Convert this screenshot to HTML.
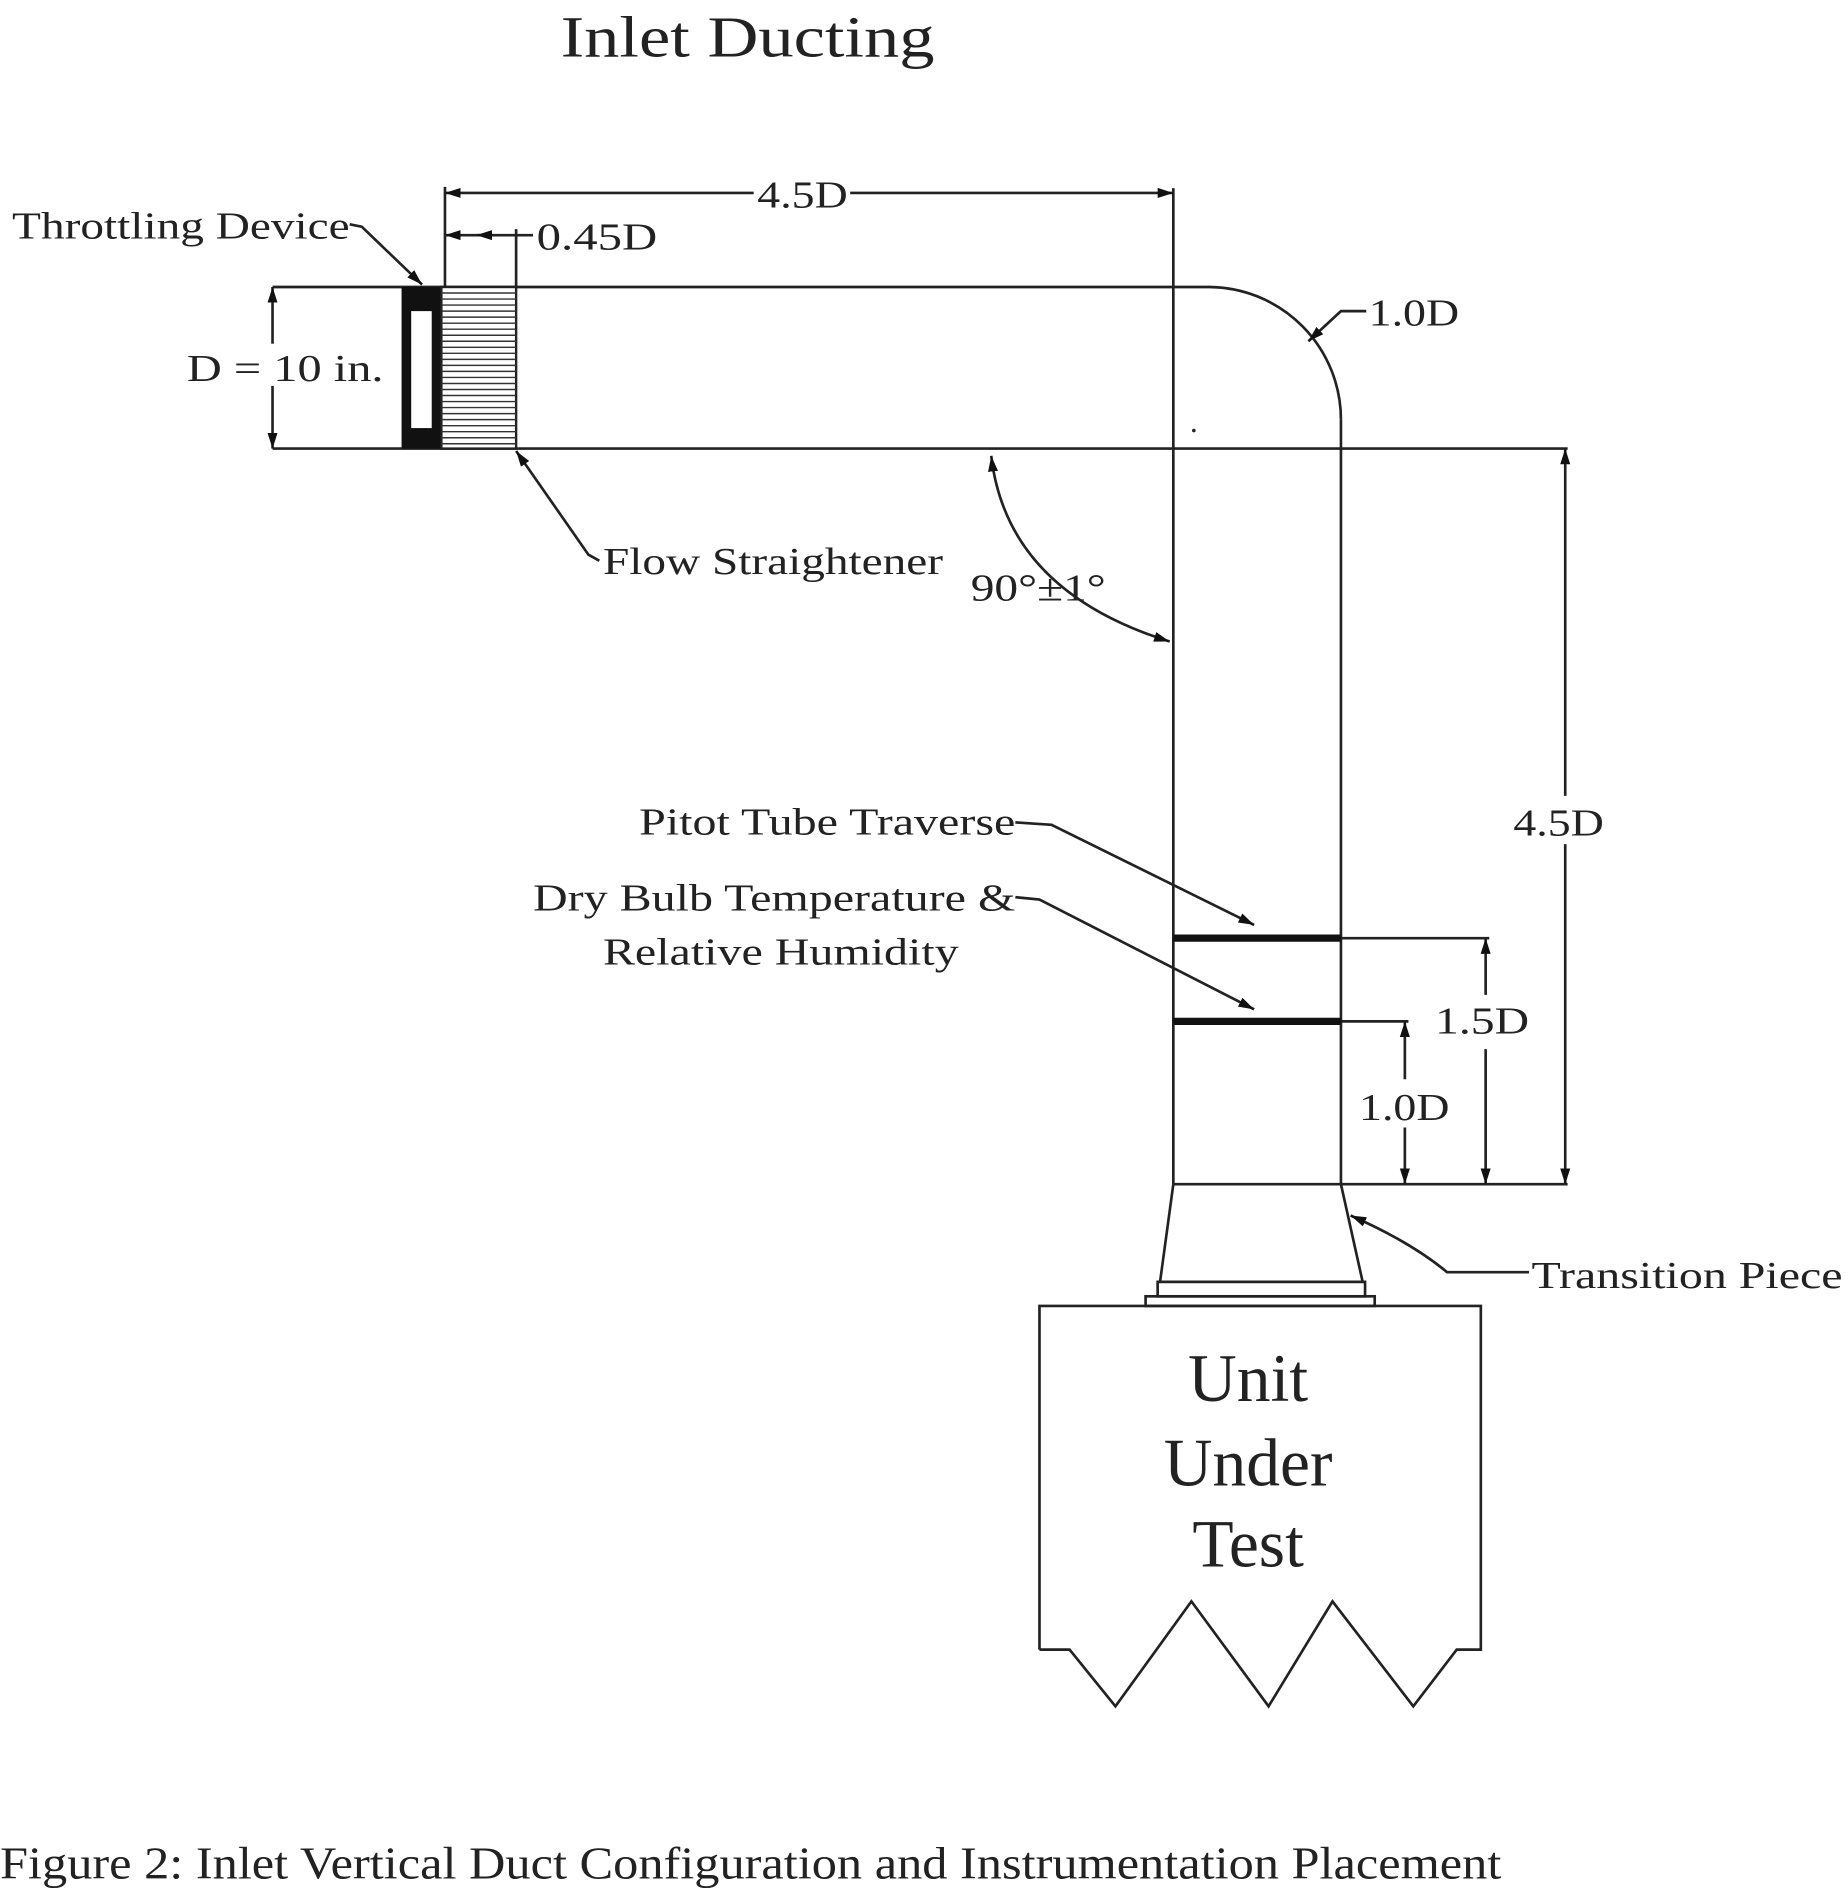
<!DOCTYPE html>
<html><head><meta charset="utf-8"><style>
html,body{margin:0;padding:0;background:#fff;}
svg{display:block;}
text{font-family:"Liberation Serif",serif;fill:#222;}
</style></head><body>
<svg width="1845" height="1889" viewBox="0 0 1530 1566.5" preserveAspectRatio="none" xmlns="http://www.w3.org/2000/svg">
<defs>
<marker id="a" viewBox="0 0 10 10" refX="10" refY="5" markerWidth="13" markerHeight="13" orient="auto-start-reverse" markerUnits="userSpaceOnUse"><path d="M0,1.8 L10,5 L0,8.2 z" fill="#111"/></marker>
</defs>
<g stroke="#222" stroke-width="2.2" fill="none">
<line x1="226" y1="238" x2="1003" y2="238"/>
<path d="M1003,238 A110,110 0 0 1 1112,348"/>
<line x1="1112" y1="348" x2="1112" y2="982"/>
<line x1="226" y1="372" x2="1300" y2="372"/>
<line x1="973" y1="156" x2="973" y2="982"/>
<line x1="973" y1="982" x2="1300" y2="982"/>
<line x1="369" y1="155" x2="369" y2="238"/>
<line x1="428" y1="190" x2="428" y2="238"/>
<line x1="369" y1="160" x2="625" y2="160" marker-start="url(#a)"/>
<line x1="705" y1="160" x2="973" y2="160" marker-end="url(#a)"/>
<line x1="369" y1="195" x2="405" y2="195" marker-start="url(#a)"/>
<line x1="395" y1="195" x2="428" y2="195" marker-start="url(#a)"/>
<line x1="428" y1="195" x2="442" y2="195"/>
<line x1="226" y1="238" x2="226" y2="285" marker-start="url(#a)"/>
<line x1="226" y1="320" x2="226" y2="372" marker-end="url(#a)"/>
<path d="M290,186 L300,188 L350,236" marker-end="url(#a)"/>
<path d="M497,465 L488,460 L428,374" marker-end="url(#a)"/>
<path d="M1133,258 L1112,258 L1085,283" marker-end="url(#a)"/>
<path d="M822,378 Q835,490 970,532" marker-start="url(#a)" marker-end="url(#a)"/>
<line x1="1298" y1="372" x2="1298" y2="660" marker-start="url(#a)"/>
<line x1="1298" y1="700" x2="1298" y2="982" marker-end="url(#a)"/>
<line x1="1112" y1="778" x2="1235" y2="778"/>
<line x1="1112" y1="847" x2="1168" y2="847"/>
<line x1="1232" y1="778" x2="1232" y2="825" marker-start="url(#a)"/>
<line x1="1232" y1="870" x2="1232" y2="982" marker-end="url(#a)"/>
<line x1="1165" y1="847" x2="1165" y2="895" marker-start="url(#a)"/>
<line x1="1165" y1="935" x2="1165" y2="982" marker-end="url(#a)"/>
<path d="M842,682 L872,684 L1040,767" marker-end="url(#a)"/>
<path d="M842,744 L862,746 L1040,837" marker-end="url(#a)"/>
<path d="M973,982 L962,1063 L1130,1063 L1112,982"/>
<rect x="960" y="1063" width="172" height="12"/>
<rect x="950" y="1075" width="190" height="8"/>
<path d="M1268,1055 L1200,1055 Q1170,1030 1120,1008" marker-end="url(#a)"/>
<path d="M862,1368 L862,1083 L1228,1083 L1228,1368 L1208,1368 L1172,1415 L1105,1328 L1052,1415 L988,1328 L925,1415 L887,1368 L862,1368"/>
</g>
<line x1="973" y1="778" x2="1112" y2="778" stroke="#111" stroke-width="6"/>
<line x1="973" y1="847" x2="1112" y2="847" stroke="#111" stroke-width="6"/>
<rect x="333" y="238" width="33" height="134" fill="#111"/>
<rect x="341" y="258" width="17" height="97" fill="#fff"/>
<rect x="366" y="238" width="62" height="134" fill="#fff" stroke="#222" stroke-width="2"/>
<g stroke="#333" stroke-width="1.2">
<line x1="366" y1="243" x2="428" y2="243"/><line x1="366" y1="248" x2="428" y2="248"/><line x1="366" y1="253" x2="428" y2="253"/><line x1="366" y1="258" x2="428" y2="258"/><line x1="366" y1="263" x2="428" y2="263"/><line x1="366" y1="268" x2="428" y2="268"/><line x1="366" y1="273" x2="428" y2="273"/><line x1="366" y1="278" x2="428" y2="278"/><line x1="366" y1="283" x2="428" y2="283"/><line x1="366" y1="288" x2="428" y2="288"/><line x1="366" y1="293" x2="428" y2="293"/><line x1="366" y1="298" x2="428" y2="298"/><line x1="366" y1="303" x2="428" y2="303"/><line x1="366" y1="308" x2="428" y2="308"/><line x1="366" y1="313" x2="428" y2="313"/><line x1="366" y1="318" x2="428" y2="318"/><line x1="366" y1="323" x2="428" y2="323"/><line x1="366" y1="328" x2="428" y2="328"/><line x1="366" y1="333" x2="428" y2="333"/><line x1="366" y1="338" x2="428" y2="338"/><line x1="366" y1="343" x2="428" y2="343"/><line x1="366" y1="348" x2="428" y2="348"/><line x1="366" y1="353" x2="428" y2="353"/><line x1="366" y1="358" x2="428" y2="358"/><line x1="366" y1="363" x2="428" y2="363"/><line x1="366" y1="368" x2="428" y2="368"/>
</g>
<circle cx="990" cy="357" r="1.5" fill="#222"/>
<text x="465" y="47" font-size="48" textLength="310" lengthAdjust="spacingAndGlyphs">Inlet Ducting</text>
<text x="10" y="198" font-size="32" textLength="280" lengthAdjust="spacingAndGlyphs">Throttling Device</text>
<text x="628" y="172" font-size="32" textLength="75" lengthAdjust="spacingAndGlyphs">4.5D</text>
<text x="445" y="207" font-size="32" textLength="100" lengthAdjust="spacingAndGlyphs">0.45D</text>
<text x="155" y="316" font-size="32" textLength="163" lengthAdjust="spacingAndGlyphs">D = 10 in.</text>
<text x="1135" y="270" font-size="32" textLength="75" lengthAdjust="spacingAndGlyphs">1.0D</text>
<text x="500" y="476" font-size="32" textLength="282" lengthAdjust="spacingAndGlyphs">Flow Straightener</text>
<text x="805" y="498" font-size="32" textLength="112" lengthAdjust="spacingAndGlyphs">90°±1°</text>
<text x="1255" y="693" font-size="32" textLength="75" lengthAdjust="spacingAndGlyphs">4.5D</text>
<text x="530" y="692" font-size="32" textLength="312" lengthAdjust="spacingAndGlyphs">Pitot Tube Traverse</text>
<text x="442" y="755" font-size="32" textLength="400" lengthAdjust="spacingAndGlyphs">Dry Bulb Temperature &amp;</text>
<text x="500" y="800" font-size="32" textLength="295" lengthAdjust="spacingAndGlyphs">Relative Humidity</text>
<text x="1190" y="857" font-size="32" textLength="78" lengthAdjust="spacingAndGlyphs">1.5D</text>
<text x="1127" y="929" font-size="32" textLength="75" lengthAdjust="spacingAndGlyphs">1.0D</text>
<text x="1270" y="1068" font-size="32" textLength="258" lengthAdjust="spacingAndGlyphs">Transition Piece</text>
<text x="1035" y="1162" font-size="56" text-anchor="middle">Unit</text>
<text x="1035" y="1232" font-size="56" text-anchor="middle">Under</text>
<text x="1035" y="1299" font-size="56" text-anchor="middle">Test</text>
<text x="0" y="1558" font-size="38" textLength="1245" lengthAdjust="spacingAndGlyphs">Figure 2: Inlet Vertical Duct Configuration and Instrumentation Placement</text>
</svg>
</body></html>
